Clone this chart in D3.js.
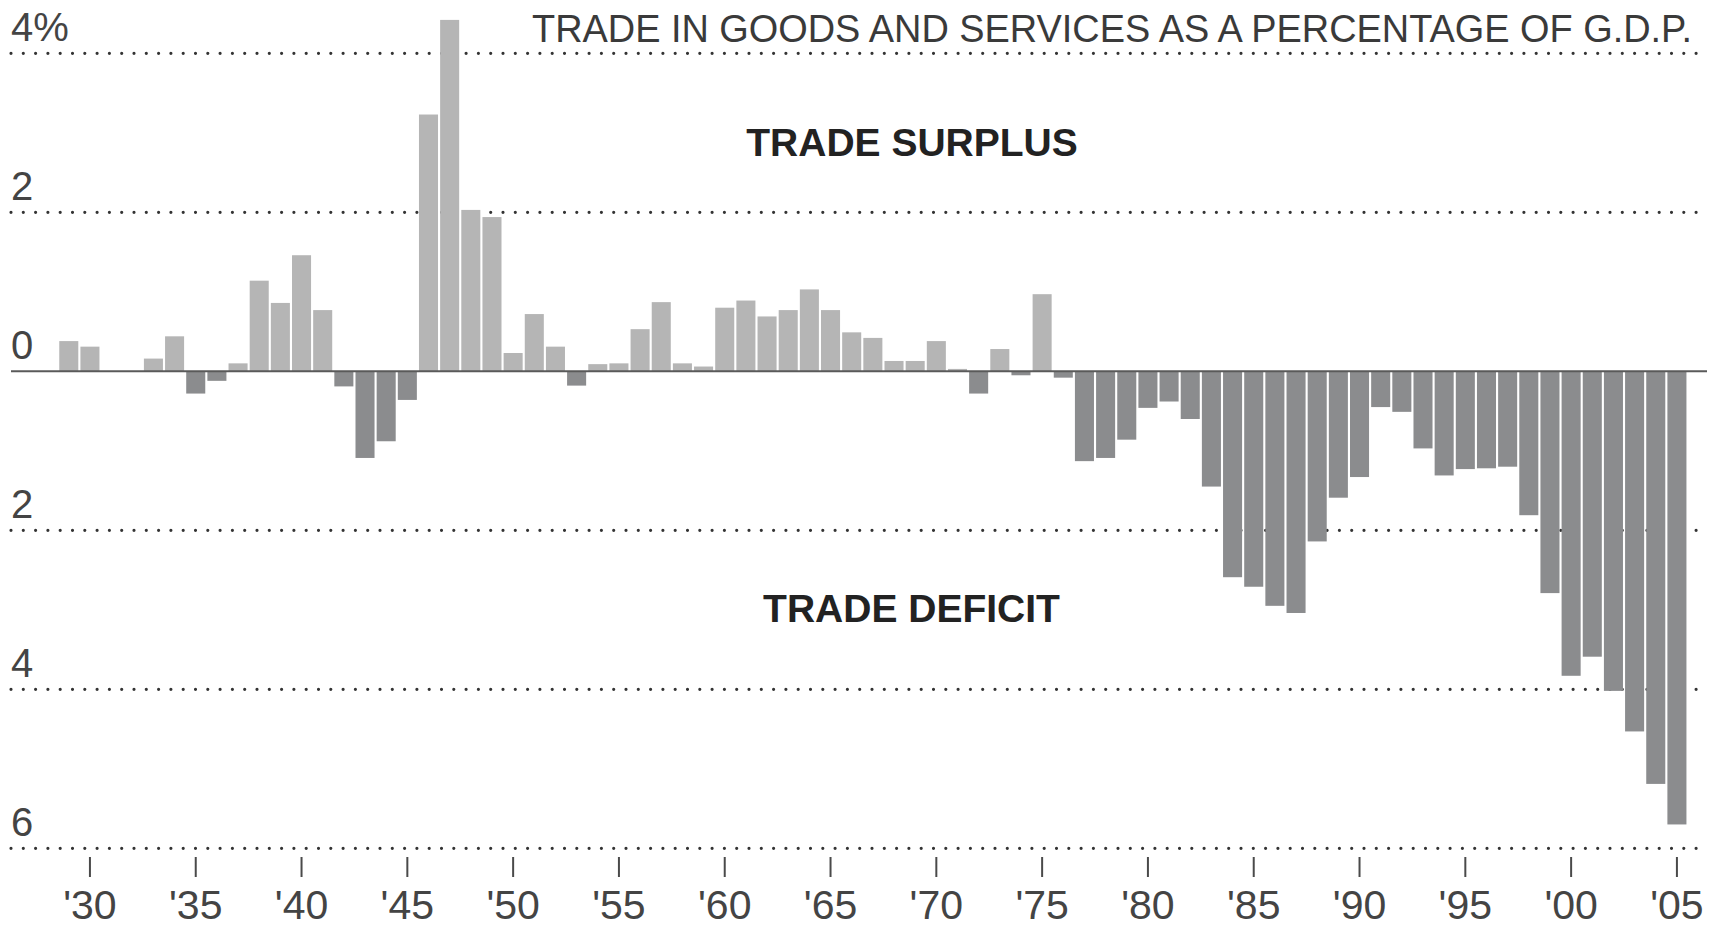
<!DOCTYPE html>
<html>
<head>
<meta charset="utf-8">
<script src="https://cdn.jsdelivr.net/npm/d3@7"></script>
<style>
  html, body { margin: 0; padding: 0; background: #fff; }
  svg { display: block; }
  text { font-family: "Liberation Sans", Arial, Helvetica, sans-serif; }
</style>
</head>
<body>
<svg id="chart" width="1723" height="929"></svg>
<script>
// U.S. trade balance in goods and services, share of G.D.P. (percent)
const years = d3.range(1929, 2006);
const balance = [
  0.38, 0.31, 0.00, 0.00, 0.16, 0.44, -0.28, -0.12, 0.10, 1.14,   // 1929-1938
  0.86, 1.46, 0.77, -0.19, -1.09, -0.88, -0.36, 3.23, 4.42, 2.03, // 1939-1948
  1.94, 0.23, 0.72, 0.31, -0.18, 0.09, 0.10, 0.53, 0.87, 0.10,    // 1949-1958
  0.06, 0.80, 0.89, 0.69, 0.77, 1.03, 0.77, 0.49, 0.42, 0.13,     // 1959-1968
  0.13, 0.38, 0.03, -0.28, 0.28, -0.05, 0.97, -0.08, -1.13, -1.09,// 1969-1978
  -0.86, -0.46, -0.38, -0.60, -1.45, -2.59, -2.71, -2.95, -3.04, -2.14, // 1979-1988
  -1.59, -1.33, -0.45, -0.51, -0.97, -1.31, -1.23, -1.22, -1.20, -1.81, // 1989-1998
  -2.79, -3.83, -3.59, -4.02, -4.53, -5.19, -5.70                  // 1999-2005
];
const gridValues = [4, 2, 0, -2, -4, -6];
const gridLabels = ["4%", "2", "0", "2", "4", "6"];
const tickYears = [1930, 1935, 1940, 1945, 1950, 1955, 1960, 1965, 1970, 1975,
                   1980, 1985, 1990, 1995, 2000, 2005];
const titleText = "TRADE IN GOODS AND SERVICES AS A PERCENTAGE OF G.D.P.";
const surplusText = "TRADE SURPLUS";
const deficitText = "TRADE DEFICIT";

const data = years.map((yr, i) => ({ year: yr, value: balance[i] }));

const svg = d3.select("#chart");

const x = d3.scaleBand()
  .domain(years)
  .range([58.2, 1687.5])
  .paddingInner(0.1)
  .paddingOuter(0.05);

const y = d3.scaleLinear()
  .domain([-6, 4])
  .range([848.3, 53.3]);

const gridLeft = 11, gridRight = 1701;

// dotted reference lines (zero is drawn later as a solid rule)
svg.append("g")
  .selectAll("line")
  .data(gridValues.filter(v => v !== 0))
  .join("line")
  .attr("x1", gridLeft)
  .attr("x2", gridRight)
  .attr("y1", d => y(d))
  .attr("y2", d => y(d))
  .attr("stroke", "#333")
  .attr("stroke-width", 3.2)
  .attr("stroke-linecap", "round")
  .attr("stroke-dasharray", "0 12.3");

// value labels sit just above each reference line
svg.append("g")
  .selectAll("text")
  .data(gridValues)
  .join("text")
  .attr("x", gridLeft)
  .attr("y", d => y(d) - 12)
  .attr("font-size", 40)
  .attr("fill", "#444")
  .text((d, i) => gridLabels[i]);

// bars: light for surplus years, dark for deficit years
svg.append("g")
  .selectAll("rect")
  .data(data)
  .join("rect")
  .attr("x", d => x(d.year))
  .attr("width", x.bandwidth())
  .attr("y", d => y(Math.max(0, d.value)))
  .attr("height", d => Math.abs(y(d.value) - y(0)))
  .attr("fill", d => d.value >= 0 ? "#b5b5b5" : "#8b8c8e");

// zero rule
svg.append("line")
  .attr("x1", gridLeft)
  .attr("x2", 1707)
  .attr("y1", y(0))
  .attr("y2", y(0))
  .attr("stroke", "#5a5a5a")
  .attr("stroke-width", 2);

// year axis
const xAxis = d3.axisBottom(x)
  .tickValues(tickYears)
  .tickSizeInner(20)
  .tickSizeOuter(0)
  .tickPadding(0)
  .tickFormat(d => "'" + String(d).slice(2));

const axisG = svg.append("g")
  .attr("transform", "translate(0,857)")
  .call(xAxis);
axisG.select(".domain").remove();
axisG.selectAll(".tick line")
  .attr("stroke", "#4a4a4a")
  .attr("stroke-width", 2);
axisG.selectAll(".tick text")
  .attr("y", 61.5)
  .attr("dy", null)
  .attr("font-size", 41)
  .attr("font-family", "'Liberation Sans', Arial, Helvetica, sans-serif")
  .attr("fill", "#444");

// headline
svg.append("text")
  .attr("x", 1692)
  .attr("y", 41.5)
  .attr("text-anchor", "end")
  .attr("font-size", 38.5)
  .attr("fill", "#3a3a3a")
  .attr("textLength", 1160)
  .attr("lengthAdjust", "spacingAndGlyphs")
  .text(titleText);

// region captions
svg.append("text")
  .attr("x", 912)
  .attr("y", 155.5)
  .attr("text-anchor", "middle")
  .attr("font-size", 39)
  .attr("font-weight", "bold")
  .attr("fill", "#222")
  .text(surplusText);

svg.append("text")
  .attr("x", 911.5)
  .attr("y", 621.7)
  .attr("text-anchor", "middle")
  .attr("font-size", 39)
  .attr("font-weight", "bold")
  .attr("fill", "#222")
  .text(deficitText);
</script>
</body>
</html>
